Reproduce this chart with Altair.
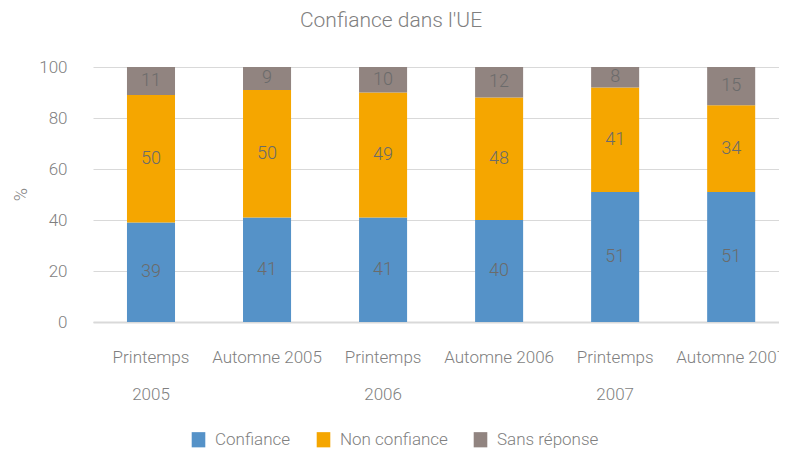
import altair as alt
import pandas as pd

periods = ["Printemps 2005", "Automne 2005", "Printemps 2006", "Automne 2006", "Printemps 2007", "Automne 2007"]
series = ["Confiance", "Non confiance", "Sans réponse"]
confiance = [39, 41, 41, 40, 51, 51]
non_confiance = [50, 50, 49, 48, 41, 34]
sans_reponse = [11, 9, 10, 12, 8, 15]
colors = ["#5592C8", "#F5A600", "#918480"]

rows = []
for i, p in enumerate(periods):
    for j, (s, vals) in enumerate(zip(series, [confiance, non_confiance, sans_reponse])):
        rows.append({"period": p, "series": s, "value": vals[i], "order": j})
df = pd.DataFrame(rows)

FONT = "Roboto, Liberation Sans, sans-serif"
FS = 17
W = 300

base = alt.Chart(df).transform_stack(
    stack="value", as_=["y0", "y1"], groupby=["period"], sort=[alt.SortField("order")]
).transform_calculate(mid="(datum.y0 + datum.y1) / 2")

xenc = alt.X(
    "period:N",
    sort=periods,
    title=None,
    scale=alt.Scale(paddingInner=0.586, paddingOuter=0.249, align=0.588),
    axis=alt.Axis(
        labelAngle=0,
        labelExpr="indexof(datum.label, 'Printemps') == 0 ? split(datum.label, ' ') : datum.label",
        labelFont=FONT, labelFontSize=FS, labelFontWeight=W, labelColor="#7F7F7F",
        labelPadding=27, labelLineHeight=37,
        ticks=False, domain=True, domainColor="#D9D9D9", domainWidth=2,
        grid=False,
    ),
)

bars = base.mark_bar().encode(
    x=xenc,
    y=alt.Y(
        "y0:Q",
        scale=alt.Scale(domain=[0, 100], nice=False),
        title="%",
        axis=alt.Axis(
            values=[0, 20, 40, 60, 80, 100],
            labelFont=FONT, labelFontSize=FS, labelFontWeight=W, labelColor="#7F7F7F", labelPadding=26,
            ticks=False, domain=False, gridColor="#D9D9D9", gridWidth=1,
            titleFont=FONT, titleFontSize=18, titleColor="#7F7F7F", titleFontWeight=W,
            titleX=-72, titleY=127, titleAngle=270, titleAlign="center", titleBaseline="middle",
        ),
    ),
    y2="y1:Q",
    color=alt.Color(
        "series:N",
        scale=alt.Scale(domain=series, range=colors),
        legend=alt.Legend(
            title=None, orient="none", direction="horizontal",
            legendX=97, legendY=364,
            symbolType="M-0.85,-0.95H0.85V0.95H-0.85Z", symbolSize=256, symbolStrokeWidth=0,
            labelFont=FONT, labelFontSize=FS, labelFontWeight=W, labelColor="#7F7F7F",
            labelOffset=8, columnPadding=24,
        ),
    ),
)

labels = base.mark_text(font=FONT, fontSize=18, fontWeight=W, color="#6B6B6B", baseline="middle").encode(
    x=alt.X("period:N", sort=periods),
    y="mid:Q",
    text="value:Q",
)

chart = alt.layer(bars, labels).properties(
    width=686,
    height=255,
    title=alt.TitleParams(
        "Confiance dans l'UE", font=FONT, fontSize=21, color="#7F7F7F", fontWeight=W,
        anchor="middle", dx=-45, offset=27,
    ),
    autosize=alt.AutoSizeParams(type="none"),
    padding={"left": 85, "top": 59, "right": 0, "bottom": 128},
).configure_view(stroke=None)

chart.save("out.html", embed_options={"renderer": "svg", "actions": False})
